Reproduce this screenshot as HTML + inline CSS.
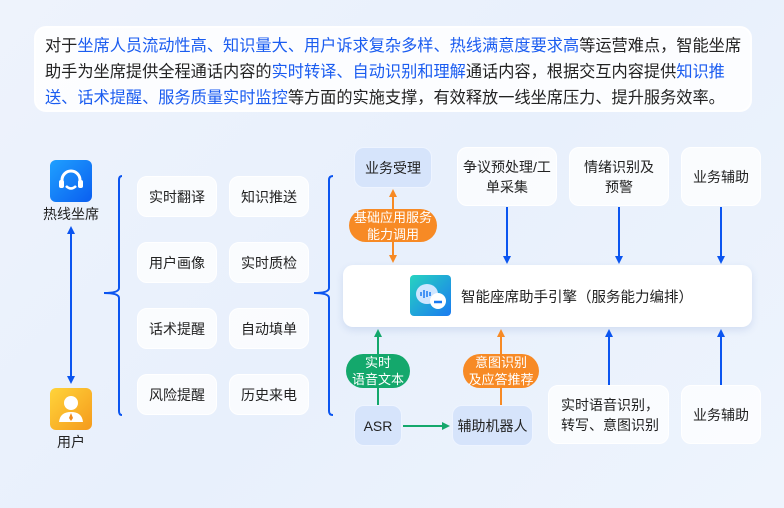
<!DOCTYPE html>
<html><head><meta charset="utf-8"><style>
*{margin:0;padding:0;box-sizing:border-box}
body{width:784px;height:508px;overflow:hidden;background:linear-gradient(135deg,#eef3fc 0%,#e8f0fc 50%,#eef4fd 100%);font-family:"Liberation Sans","Noto Sans CJK SC",sans-serif;color:#222;position:relative}
.a{position:absolute}
.box{position:absolute;background:rgba(255,255,255,0.75);border:1px solid #fff;border-radius:10px;display:flex;align-items:center;justify-content:center;text-align:center;font-size:14px;line-height:20px;color:#222}
.blue{background:#d6e4fb;border-color:#eef4ff}
.pill{position:absolute;border-radius:17px;color:#fff;font-size:13px;line-height:17px;display:flex;align-items:center;justify-content:center;text-align:center}
.top{position:absolute;left:34px;top:26px;width:718px;height:86px;background:rgba(255,255,255,0.85);border:2px solid #fff;border-radius:12px;font-size:16.2px;line-height:26px;padding:5px 0 0 9px;color:#222;white-space:nowrap}
.top b{font-weight:normal;color:#1a5cf0}
</style></head><body>
<div class="top">对于<b>坐席人员流动性高、知识量大、用户诉求复杂多样、热线满意度要求高</b>等运营难点，智能坐席<br>助手为坐席提供全程通话内容的<b>实时转译、自动识别和理解</b>通话内容，根据交互内容提供<b>知识推</b><br><b>送、话术提醒、服务质量实时监控</b>等方面的实施支撑，有效释放一线坐席压力、提升服务效率。</div>

<div class="a" style="left:50px;top:160px;width:42px;height:42px;border-radius:6px;background:linear-gradient(135deg,#1fa0ff,#0a5ef0)"></div>
<svg class="a" style="left:50px;top:160px" width="42" height="42"><path d="M12 24 V20 A9 9 0 0 1 30 20 V24" stroke="#fff" stroke-width="3" fill="none"/><rect x="9" y="20" width="5" height="8" rx="2" fill="#fff"/><rect x="28" y="20" width="5" height="8" rx="2" fill="#fff"/><path d="M16 26 Q21 31 26 26" stroke="#fff" stroke-width="2.5" fill="none"/></svg>
<div class="a" style="left:40px;top:204px;width:62px;text-align:center;font-size:14px">热线坐席</div>
<div class="a" style="left:50px;top:388px;width:42px;height:42px;border-radius:6px;background:linear-gradient(135deg,#ffd43a,#f59a1c)"></div>
<svg class="a" style="left:50px;top:388px" width="42" height="42"><circle cx="21" cy="15" r="7" fill="#fff"/><path d="M9 34 Q10 24 21 24 Q32 24 33 34Z" fill="#fff"/><path d="M21 25 l-2 5 l2 3 l2 -3z" fill="#f08a1c"/></svg>
<div class="a" style="left:40px;top:432px;width:62px;text-align:center;font-size:14px">用户</div>

<div class="box" style="left:137px;top:176px;width:80px;height:41px">实时翻译</div>
<div class="box" style="left:229px;top:176px;width:80px;height:41px">知识推送</div>
<div class="box" style="left:137px;top:242px;width:80px;height:41px">用户画像</div>
<div class="box" style="left:229px;top:242px;width:80px;height:41px">实时质检</div>
<div class="box" style="left:137px;top:308px;width:80px;height:41px">话术提醒</div>
<div class="box" style="left:229px;top:308px;width:80px;height:41px">自动填单</div>
<div class="box" style="left:137px;top:374px;width:80px;height:41px">风险提醒</div>
<div class="box" style="left:229px;top:374px;width:80px;height:41px">历史来电</div>

<div class="box blue" style="left:354px;top:147px;width:78px;height:41px">业务受理</div>
<div class="box" style="left:457px;top:147px;width:100px;height:59px">争议预处理/工<br>单采集</div>
<div class="box" style="left:569px;top:147px;width:100px;height:59px">情绪识别及<br>预警</div>
<div class="box" style="left:681px;top:147px;width:80px;height:59px">业务辅助</div>

<div class="a" style="left:343px;top:265px;width:409px;height:62px;background:#fff;border-radius:10px;box-shadow:0 3px 8px rgba(60,100,180,0.15)"></div>
<div class="a" style="left:410px;top:275px;width:41px;height:41px;border-radius:4px;background:linear-gradient(135deg,#27d3c0,#1a7af0)"></div>
<svg class="a" style="left:410px;top:275px" width="41" height="41"><ellipse cx="17" cy="19" rx="11" ry="10" fill="#cfe6ff"/><circle cx="28" cy="26" r="8" fill="#fff"/><path d="M24 27 h8" stroke="#1a7af0" stroke-width="2.5"/><path d="M11 17v4M14 15v8M17 16v6M20 17v4" stroke="#1a7af0" stroke-width="1.5"/></svg>
<div class="a" style="left:461px;top:286px;font-size:14.5px;color:#222">智能座席助手引擎（服务能力编排）</div>

<div class="box blue" style="left:354px;top:405px;width:48px;height:41px">ASR</div>
<div class="box blue" style="left:452px;top:405px;width:81px;height:41px">辅助机器人</div>
<div class="box" style="left:548px;top:385px;width:121px;height:59px;text-align:left;justify-content:flex-start;padding-left:12px">实时语音识别，<br>转写、意图识别</div>
<div class="box" style="left:681px;top:385px;width:80px;height:59px">业务辅助</div>

<svg class="a" style="left:0;top:0" width="784" height="508">
<defs>
<marker id="mb" markerWidth="8" markerHeight="8" refX="4" refY="4" orient="auto-start-reverse" markerUnits="userSpaceOnUse"><path d="M0 0 L8 4 L0 8z" fill="#0b55f0"/></marker>
<marker id="mo" markerWidth="8" markerHeight="8" refX="4" refY="4" orient="auto-start-reverse" markerUnits="userSpaceOnUse"><path d="M0 0 L8 4 L0 8z" fill="#f78a25"/></marker>
<marker id="mg" markerWidth="8" markerHeight="8" refX="4" refY="4" orient="auto-start-reverse" markerUnits="userSpaceOnUse"><path d="M0 0 L8 4 L0 8z" fill="#14a86c"/></marker>
</defs>
<g fill="none" stroke-width="2">
<line x1="71" y1="230" x2="71" y2="380" stroke="#0b55f0" marker-start="url(#mb)" marker-end="url(#mb)"/>
<path d="M122 176 Q119 176 119 180 V288 Q119 293 104 293 Q119 293 119 298 V411 Q119 415 122 415" stroke="#0b55f0"/>
<path d="M333 176 Q329 176 329 180 V288 Q329 293 314 293 Q329 293 329 298 V411 Q329 415 333 415" stroke="#0b55f0"/>
<line x1="393" y1="193" x2="393" y2="259" stroke="#f78a25" marker-start="url(#mo)" marker-end="url(#mo)"/>
<line x1="507" y1="207" x2="507" y2="260" stroke="#0b55f0" marker-end="url(#mb)"/>
<line x1="619" y1="207" x2="619" y2="260" stroke="#0b55f0" marker-end="url(#mb)"/>
<line x1="721" y1="207" x2="721" y2="260" stroke="#0b55f0" marker-end="url(#mb)"/>
<line x1="378" y1="405" x2="378" y2="333" stroke="#14a86c" marker-end="url(#mg)"/>
<line x1="403" y1="426" x2="446" y2="426" stroke="#14a86c" marker-end="url(#mg)"/>
<line x1="501" y1="405" x2="501" y2="333" stroke="#f78a25" marker-end="url(#mo)"/>
<line x1="609" y1="385" x2="609" y2="333" stroke="#0b55f0" marker-end="url(#mb)"/>
<line x1="721" y1="385" x2="721" y2="333" stroke="#0b55f0" marker-end="url(#mb)"/>
</g></svg>

<div class="pill" style="left:349px;top:209px;width:88px;height:33px;background:#f78a25">基础应用服务<br>能力调用</div>
<div class="pill" style="left:346px;top:354px;width:64px;height:34px;background:#14a86c">实时<br>语音文本</div>
<div class="pill" style="left:463px;top:354px;width:76px;height:34px;background:#f78a25">意图识别<br>及应答推荐</div>
</body></html>
